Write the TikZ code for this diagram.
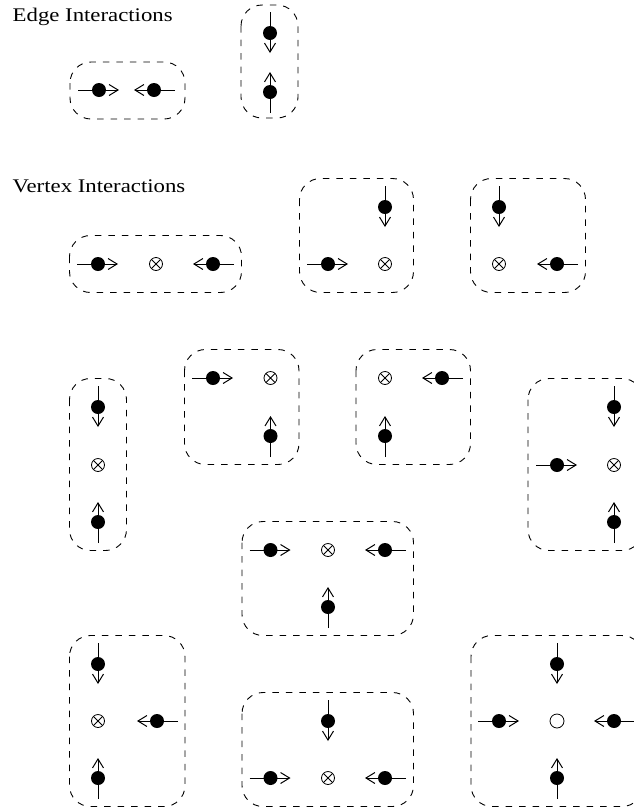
\documentclass[tikz,border=0pt]{standalone}
\usepackage{fontspec}
\setmainfont{Liberation Serif}
\newfontfamily\titlefont[FakeStretch=1.18]{Liberation Serif}
\usetikzlibrary{arrows.meta,calc}
\tikzset{
  box/.style={draw, dash pattern=on 6.5pt off 7pt, line width=0.9pt, rounded corners=21pt},
  dot/.style={circle, fill=black, inner sep=0pt, minimum size=14pt},
  arr/.style={line width=1pt, -{Straight Barb[length=9pt,width=11pt]}},
  vtx/.style={circle, draw, line width=0.8pt, inner sep=0pt, minimum size=13pt,
    path picture={\draw[line width=0.8pt]
      (path picture bounding box.north west) -- (path picture bounding box.south east)
      (path picture bounding box.north east) -- (path picture bounding box.south west);}},
  ovtx/.style={circle, draw, line width=0.8pt, inner sep=0pt, minimum size=14pt},
  title/.style={anchor=base west, inner sep=0pt, font=\titlefont\fontsize{19.3}{23}\selectfont},
}
% particle: name, position, direction angle (0 right, 90 down, 180 left, 270 up)
\newcommand\ptcl[3]{%
  \draw[arr] ($(#2)+(#3+180:21)$) -- ($(#2)+(#3:20)$);
  \node[dot] (#1) at (#2) {};}
\begin{document}
\begin{tikzpicture}[x=1pt,y=-1pt]
\path[use as bounding box] (0,0) rectangle (634,812);
\clip (0,0) rectangle (634,812);

\node[title] (edgetitle) at (12.5,21.7) {Edge Interactions};
\node[title] (verttitle) at (12.5,192) {Vertex Interactions};

% Edge interactions
\draw[box] (70,62) rectangle (185,119);
\ptcl{e1a}{99,90}{0}
\ptcl{e1b}{154,90}{180}

\draw[box] (241,5) rectangle (298,118);
\ptcl{e2a}{270,33}{90}
\ptcl{e2b}{270,92}{270}

% A
\draw[box] (69.5,235.5) rectangle (241.5,292.5);
\ptcl{a1}{98,264}{0}
\node[vtx] (a0) at (156,264) {};
\ptcl{a2}{213,264}{180}

% B
\draw[box] (299.5,178.5) rectangle (413.5,292.5);
\ptcl{b1}{385,207}{90}
\ptcl{b2}{328,264}{0}
\node[vtx] (b0) at (385,264) {};

% C
\draw[box] (470.5,178.5) rectangle (585.5,292.5);
\ptcl{c1}{499,207}{90}
\node[vtx] (c0) at (499,264) {};
\ptcl{c2}{557,264}{180}

% D
\draw[box] (69.5,378.5) rectangle (126.5,550.5);
\ptcl{d1}{98,407}{90}
\node[vtx] (d0) at (98,465) {};
\ptcl{d2}{98,522}{270}

% E
\draw[box] (184.5,349.5) rectangle (299,464.5);
\ptcl{f1}{213,378}{0}
\node[vtx] (f0) at (270.5,378) {};
\ptcl{f2}{270.5,436}{270}

% F
\draw[box] (356,349.5) rectangle (470.5,464.5);
\node[vtx] (g0) at (385,378) {};
\ptcl{g1}{442,378}{180}
\ptcl{g2}{385,436}{270}

% G
\draw[box] (528,378.5) rectangle (643,550.5);
\ptcl{h1}{614,407}{90}
\ptcl{h2}{557,465}{0}
\node[vtx] (h0) at (614,465) {};
\ptcl{h3}{614,522}{270}

% H
\draw[box] (242,521.5) rectangle (413.5,635.5);
\ptcl{i1}{270.5,550}{0}
\node[vtx] (i0) at (328,550) {};
\ptcl{i2}{385,550}{180}
\ptcl{i3}{328,607}{270}

% I
\draw[box] (69.5,635.5) rectangle (185,806.5);
\ptcl{j1}{98,664}{90}
\node[vtx] (j0) at (98,721) {};
\ptcl{j2}{157,721}{180}
\ptcl{j3}{98,778}{270}

% J
\draw[box] (242,692.5) rectangle (413.5,806.5);
\ptcl{k1}{328,721}{90}
\ptcl{k2}{270.5,778}{0}
\node[vtx] (k0) at (328,778) {};
\ptcl{k3}{385,778}{180}

% K
\draw[box] (471,635.5) rectangle (643,806.5);
\ptcl{l1}{557,664}{90}
\ptcl{l2}{499,721}{0}
\node[ovtx] (l0) at (557,721) {};
\ptcl{l3}{614,721}{180}
\ptcl{l4}{557,778}{270}
\end{tikzpicture}
\end{document}
